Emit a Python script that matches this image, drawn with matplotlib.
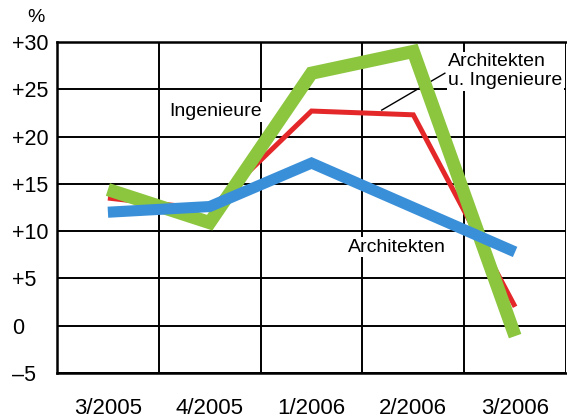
import matplotlib
matplotlib.use("Agg")
import matplotlib.pyplot as plt
import numpy as np

categories = ["3/2005", "4/2005", "1/2006", "2/2006", "3/2006"]
architekten_u_ingenieure = [13.5, 12.3, 22.7, 22.3, 2.0]
ingenieure = [14.4, 10.9, 26.7, 29.0, -1.1]
architekten = [12.0, 12.6, 17.2, 12.5, 7.8]
ytick_values = [-5, 0, 5, 10, 15, 20, 25, 30]
ytick_labels = ["\u20135", "0", "+5", "+10", "+15", "+20", "+25", "+30"]

plt.rcParams['font.family'] = ['Liberation Sans', 'DejaVu Sans']

fig = plt.figure(figsize=(5.67, 4.2), dpi=100)
ax = fig.add_axes([57/567, 1-373/420, 509/567, 331/420])

x = np.arange(len(categories))
ax.plot(x, architekten_u_ingenieure, color="#e4282a", lw=3.6, solid_joinstyle='miter', solid_capstyle='butt', zorder=3)
ax.plot(x, ingenieure, color="#8cc63e", lw=9.5, solid_joinstyle='miter', solid_capstyle='butt', zorder=4)
ax.plot(x, architekten, color="#3a8fd9", lw=8.0, solid_joinstyle='miter', solid_capstyle='butt', zorder=5)

ax.set_xlim(-0.5, len(categories) - 0.5)
ax.set_ylim(-5, 30)
ax.set_xticks(x)
ax.set_xticklabels(categories, fontsize=16)
ax.set_xticks(np.arange(-0.5, len(categories), 1.0), minor=True)
ax.set_yticks(ytick_values)
ax.set_yticklabels(ytick_labels, fontsize=15.5, ha='left')
ax.tick_params(axis='y', length=0, pad=32.4)
ax.tick_params(axis='x', which='major', length=0, pad=18)
ax.tick_params(axis='x', which='minor', length=0)
ax.grid(True, axis='y', which='major', color='black', lw=1.4, zorder=1)
ax.grid(True, axis='x', which='minor', color='black', lw=1.4, zorder=1)
for s in ['left', 'bottom', 'top']:
    ax.spines[s].set_linewidth(1.8)
ax.spines['right'].set_visible(False)

bbox = dict(facecolor='white', edgecolor='none', pad=1.0)
ax.text(1.06, 22.6, "Ingenieure", fontsize=14, ha='center', va='center', bbox=bbox, zorder=2)
ax.text(2.84, 8.3, "Architekten", fontsize=14, ha='center', va='center', bbox=bbox, zorder=2)
ax.text(3.34, 26.9, "Architekten\nu. Ingenieure", fontsize=14, ha='left', va='center',
        linespacing=1.15, bbox=bbox, zorder=2)
ax.plot([2.69, 3.31], [22.8, 26.7], color='black', lw=1.0, zorder=3.5)

fig.text(36/567, 1-17/420, "%", fontsize=14, ha='center', va='center')

fig.savefig("out.png", dpi=100)
